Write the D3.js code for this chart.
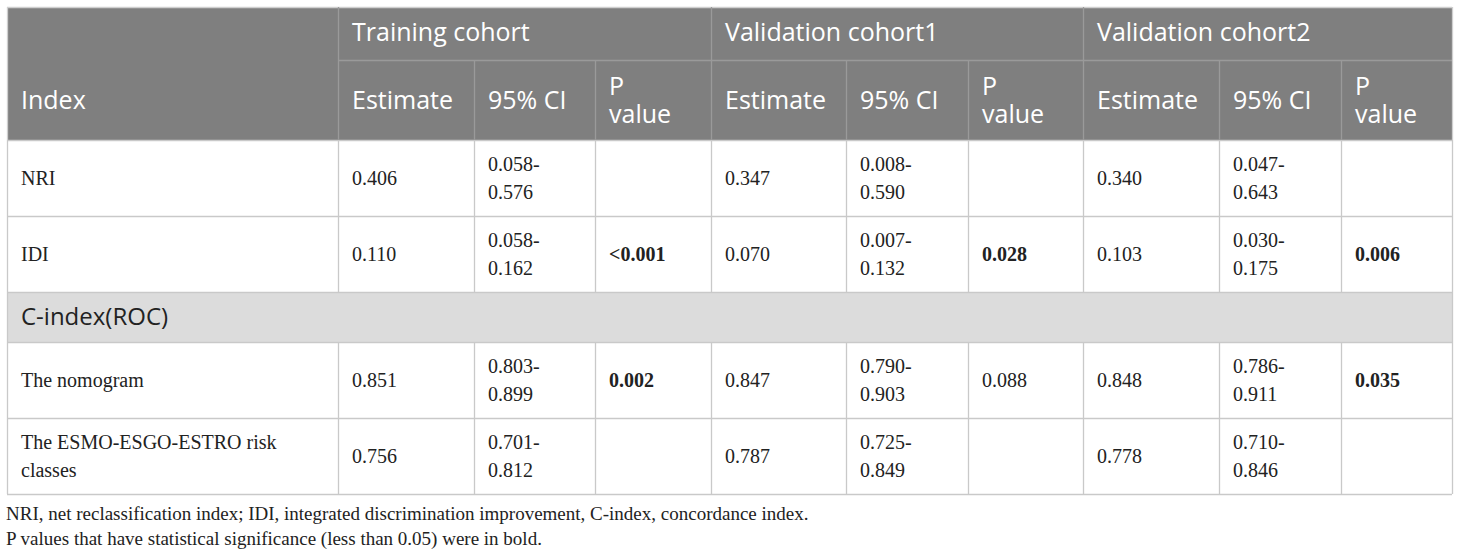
<!DOCTYPE html>
<html>
<head>
<meta charset="utf-8">
<script src="https://cdn.jsdelivr.net/npm/d3@7"></script>
<style>
  body { margin: 0; background: #fff; }
</style>
</head>
<body>
<div id="table"></div>
<script>
// table content
const cohorts = ["Training cohort", "Validation cohort1", "Validation cohort2"];
const subHeaders = ["Estimate", "95% CI", "P value"];
const indexLabels = ["NRI", "IDI"];
const sectionLabel = "C-index(ROC)";
const modelLabels = ["The nomogram", "The ESMO-ESGO-ESTRO risk classes"];
const estimates = [
    ["0.406", "0.347", "0.340"],
    ["0.110", "0.070", "0.103"],
    ["0.851", "0.847", "0.848"],
    ["0.756", "0.787", "0.778"]
];
const ciLow = [
    ["0.058", "0.008", "0.047"],
    ["0.058", "0.007", "0.030"],
    ["0.803", "0.790", "0.786"],
    ["0.701", "0.725", "0.710"]
];
const ciHigh = [
    ["0.576", "0.590", "0.643"],
    ["0.162", "0.132", "0.175"],
    ["0.899", "0.903", "0.911"],
    ["0.812", "0.849", "0.846"]
];
const pValues = [
    ["", "", ""],
    ["<0.001", "0.028", "0.006"],
    ["0.002", "0.088", "0.035"],
    ["", "", ""]
];
const footnotes = [
    "NRI, net reclassification index; IDI, integrated discrimination improvement, C-index, concordance index.",
    "P values that have statistical significance (less than 0.05) were in bold."
];

// layout
let width = 1460, height = 556;
let colEdges = [7, 338, 474, 595, 711, 846, 968, 1083, 1219, 1341, 1452];
let rowEdges = [7, 60, 140, 216, 292, 342, 418, 494];
let pad = 14;
let headFill = "#7f7f7f", sectionFill = "#dcdcdc", gridColor = "#c9c9c9";
let sans = "'Open Sans', 'Noto Sans', sans-serif";
let serif = "'Liberation Serif', 'Times New Roman', serif";

let svg = d3.select("#table").append("svg")
    .attr("width", width)
    .attr("height", height);

let x = d3.scaleOrdinal().domain(d3.range(colEdges.length)).range(colEdges);
let y = d3.scaleOrdinal().domain(d3.range(rowEdges.length)).range(rowEdges);

// header background
svg.append("rect")
    .attr("x", x(0)).attr("y", y(0))
    .attr("width", x(10) - x(0)).attr("height", y(2) - y(0))
    .attr("fill", headFill);

// section row background
svg.append("rect")
    .attr("x", x(0)).attr("y", y(4))
    .attr("width", x(10) - x(0)).attr("height", y(5) - y(4))
    .attr("fill", sectionFill);

// horizontal lines
let hLines = [
    {y: y(0), c: "#cfcfcf"},
    {y: y(1), x0: x(1), c: "#9a9a9a"},
    {y: y(2), c: gridColor},
    {y: y(3), c: gridColor},
    {y: y(4), c: gridColor},
    {y: y(5), c: gridColor},
    {y: y(6), c: gridColor},
    {y: y(7), c: gridColor}
];
svg.selectAll("line.h")
    .data(hLines)
    .enter()
    .append("line")
    .attr("class", "h")
    .attr("x1", d => d.x0 || x(0)).attr("x2", x(10))
    .attr("y1", d => d.y + 0.5).attr("y2", d => d.y + 0.5)
    .attr("stroke", d => d.c)
    .attr("stroke-width", 1.3);

// vertical lines: body parts and header parts
let bodyBlocks = [[2, 4], [5, 7]];
let vLines = [];
d3.range(11).forEach(i => {
    bodyBlocks.forEach(b => vLines.push({x: x(i), y0: y(b[0]), y1: y(b[1]), c: gridColor}));
    if (i === 0 || i === 10) {
        vLines.push({x: x(i), y0: y(0), y1: y(2), c: "#cfcfcf"});
        vLines.push({x: x(i), y0: y(4), y1: y(5), c: gridColor});
    } else if (i === 1 || i === 4 || i === 7) {
        vLines.push({x: x(i), y0: y(0), y1: y(2), c: "#9a9a9a"});
    } else {
        vLines.push({x: x(i), y0: y(1), y1: y(2), c: "#9a9a9a"});
    }
});
svg.selectAll("line.v")
    .data(vLines)
    .enter()
    .append("line")
    .attr("class", "v")
    .attr("x1", d => d.x + 0.5).attr("x2", d => d.x + 0.5)
    .attr("y1", d => d.y0).attr("y2", d => d.y1)
    .attr("stroke", d => d.c)
    .attr("stroke-width", 1.3);

// helper for a text block, lines centred vertically on cy
function cellText(tx, cy, lines, opts) {
    let lh = opts.lh || 28;
    let t = svg.append("text")
        .attr("x", tx)
        .attr("font-family", opts.family)
        .attr("font-size", opts.size)
        .attr("font-weight", opts.weight || "normal")
        .attr("fill", opts.fill);
    lines.forEach((s, k) => {
        t.append("tspan")
            .attr("x", tx)
            .attr("y", cy + (k - (lines.length - 1) / 2) * lh)
            .attr("dy", "0.35em")
            .text(s);
    });
}

let mid = (a, b) => (a + b) / 2;
let headOpts = {family: sans, size: 25, fill: "#ffffff", lh: 28};
let bodyOpts = {family: serif, size: 20, fill: "#222222", lh: 27.5};

// header rows
cellText(x(0) + pad, mid(y(1), y(2)), ["Index"], headOpts);
cohorts.forEach((c, i) => {
    cellText(x(1 + i * 3) + pad, mid(y(0), y(1)) - 1, [c], headOpts);
    subHeaders.forEach((s, j) => {
        let lines = s === "P value" ? ["P", "value"] : [s];
        cellText(x(1 + i * 3 + j) + pad, mid(y(1), y(2)), lines, headOpts);
    });
});

// body rows
let bodyRows = [0, 1, 2, 3];
let rowIdx = [2, 3, 5, 6];
let rowLabels = [[indexLabels[0]], [indexLabels[1]], [modelLabels[0]], ["The ESMO-ESGO-ESTRO risk", "classes"]];

bodyRows.forEach(r => {
    let cy = mid(y(rowIdx[r]), y(rowIdx[r] + 1));
    cellText(x(0) + pad, cy, rowLabels[r], bodyOpts);
    cohorts.forEach((c, i) => {
        cellText(x(1 + i * 3) + pad, cy, [estimates[r][i]], bodyOpts);
        cellText(x(2 + i * 3) + pad, cy, [ciLow[r][i] + "-", ciHigh[r][i]], bodyOpts);
        let p = pValues[r][i];
        if (p !== "") {
            let num = parseFloat(p.replace("<", ""));
            cellText(x(3 + i * 3) + pad, cy, [p],
                Object.assign({}, bodyOpts, {weight: num < 0.05 ? "bold" : "normal"}));
        }
    });
});

// section label
cellText(x(0) + pad, mid(y(4), y(5)), [sectionLabel], {family: sans, size: 24, fill: "#222222"});

// footnotes
footnotes.forEach((f, k) => {
    cellText(x(0) - 1, 513 + k * 25, [f], {family: serif, size: 19, fill: "#222222"});
});
</script>
</body>
</html>
